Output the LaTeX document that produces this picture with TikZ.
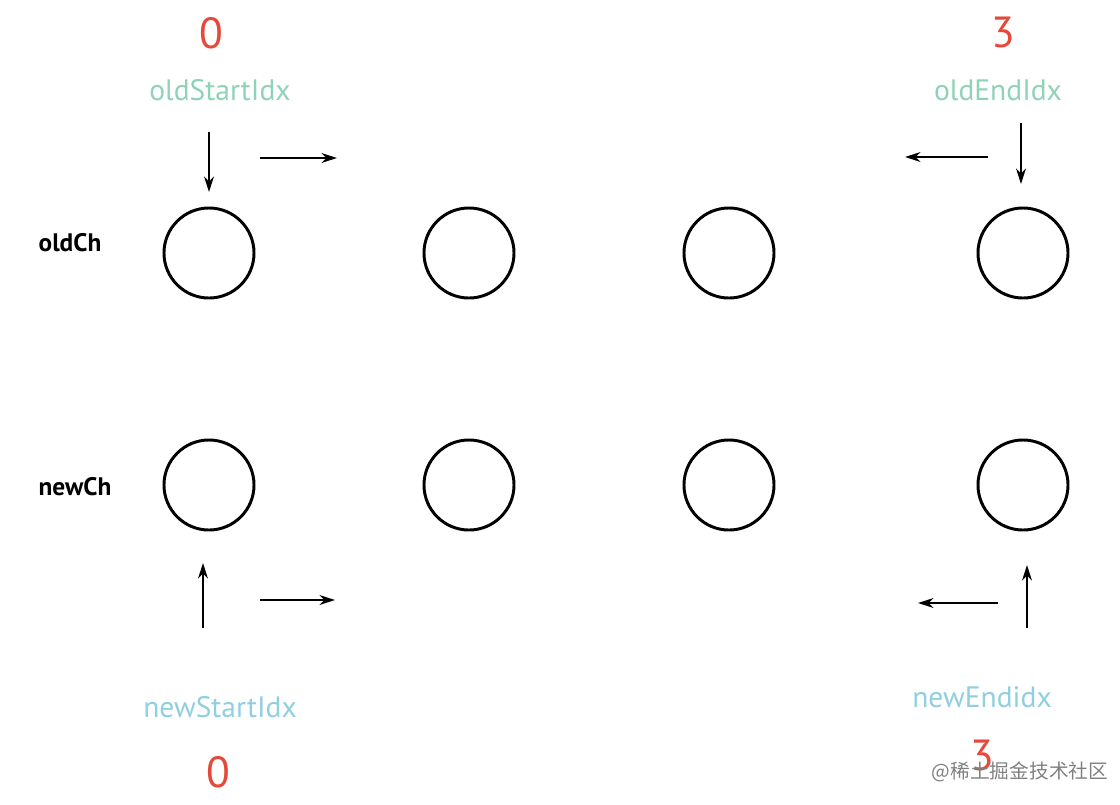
\documentclass[tikz,border=0pt]{standalone}
\usepackage{fontspec}
\setmainfont{PT Sans}
\newfontfamily\cjk{Noto Sans CJK SC}
\usetikzlibrary{arrows.meta}
\definecolor{idxred}{HTML}{E5493A}
\definecolor{oldteal}{HTML}{8ED3B5}
\definecolor{newblue}{HTML}{8FCFE0}
\begin{document}
\begin{tikzpicture}[x=0.025cm, y=-0.025cm,
            vnode/.style = {circle, draw, line width=2.1pt, minimum size=2.25cm, inner sep=0pt},
            num/.style = {text=idxred, font=\fontsize{31}{31}\selectfont},
            oldlbl/.style = {text=oldteal, font=\fontsize{21}{21}\selectfont},
            newlbl/.style = {text=newblue, font=\fontsize{21}{21}\selectfont},
            rowlbl/.style = {font=\bfseries\fontsize{18}{18}\selectfont},
            ptr/.style = {line width=1.4pt, -{Stealth[length=11pt, width=7pt]}},
            ]
            \useasboundingbox (0,0) rectangle (1120,804);
            % children
            \node[vnode] (O0) at (209, 253) {};
            \node[vnode] (O1) at (469, 253) {};
            \node[vnode] (O2) at (729, 253) {};
            \node[vnode] (O3) at (1023, 253) {};
            \node[vnode] (N0) at (209, 485) {};
            \node[vnode] (N1) at (469, 485) {};
            \node[vnode] (N2) at (729, 485) {};
            \node[vnode] (N3) at (1023, 485) {};

            \node[rowlbl] (oldCh) at (70, 243) {oldCh};
            \node[rowlbl] (newCh) at (75, 487) {newCh};

            % indices
            \node[num]    (os) at (211, 33) {0};
            \node[oldlbl] (osl) at (220, 90) {oldStartIdx};
            \node[num]    (oe) at (1003, 33) {3};
            \node[oldlbl] (oel) at (998, 90) {oldEndIdx};
            \node[newlbl] (nsl) at (220, 707) {newStartIdx};
            \node[num]    (ns) at (218, 772) {0};
            \node[newlbl] (nel) at (982, 697) {newEndidx};
            \node[num]    (ne) at (982, 755) {3};
            \node[text=gray, font=\cjk\fontsize{14}{14}\selectfont] (wm) at (1020, 772) {@稀土掘金技术社区};

            % pointers
            \coordinate (a1) at (209, 132); \coordinate (a2) at (209, 192);
            \coordinate (b1) at (260, 158); \coordinate (b2) at (337, 158);
            \coordinate (c1) at (988, 157); \coordinate (c2) at (905, 157);
            \coordinate (d1) at (1021, 123); \coordinate (d2) at (1021, 184);
            \coordinate (e1) at (203, 628); \coordinate (e2) at (203, 563);
            \coordinate (f1) at (260, 600); \coordinate (f2) at (335, 600);
            \coordinate (g1) at (998, 603); \coordinate (g2) at (918, 603);
            \coordinate (h1) at (1027, 628); \coordinate (h2) at (1027, 565);
            \draw[ptr] (a1) -- (a2);
            \draw[ptr] (b1) -- (b2);
            \draw[ptr] (c1) -- (c2);
            \draw[ptr] (d1) -- (d2);
            \draw[ptr] (e1) -- (e2);
            \draw[ptr] (f1) -- (f2);
            \draw[ptr] (g1) -- (g2);
            \draw[ptr] (h1) -- (h2);
\end{tikzpicture}
\end{document}
